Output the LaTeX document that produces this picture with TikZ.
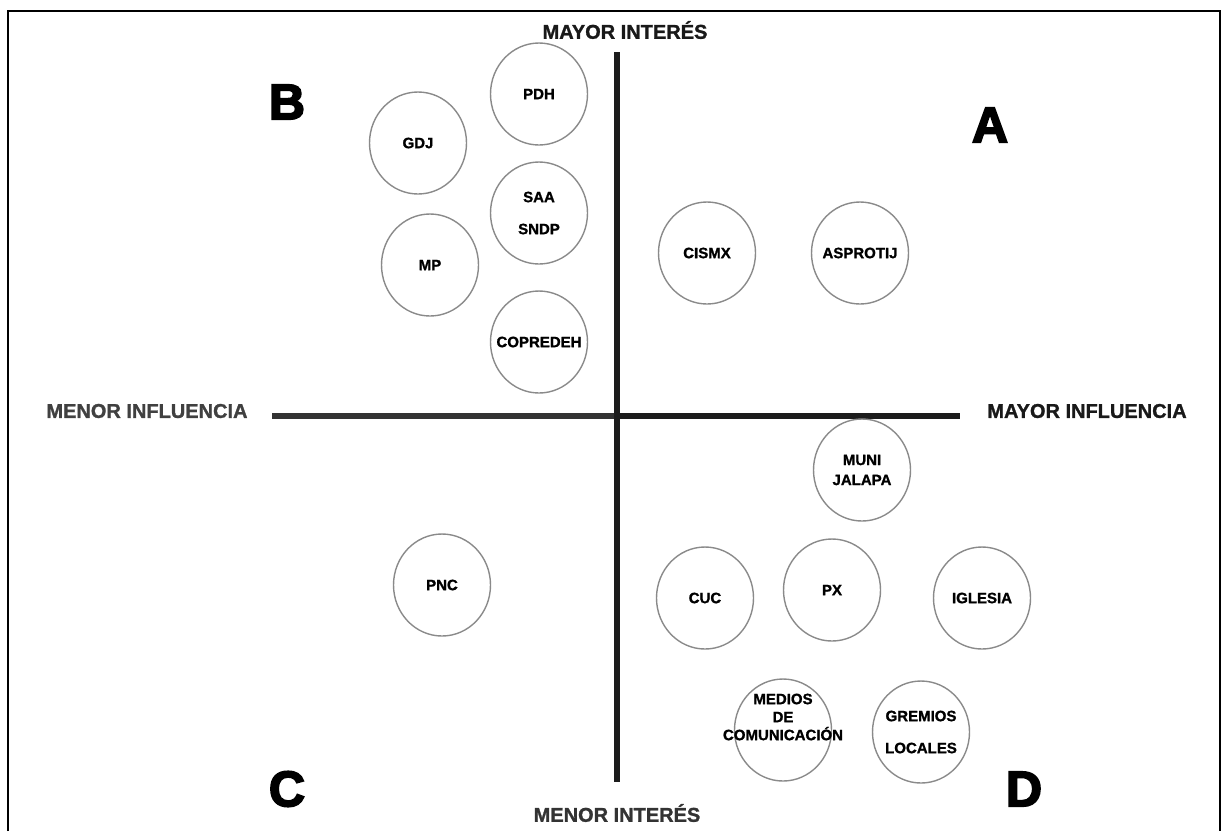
\documentclass[tikz,border=0pt]{standalone}
\usepackage{fontspec}
\setmainfont{Liberation Sans}
\newfontfamily\boldsans[UprightFont=* Bold, FakeBold=1.2]{Liberation Sans}
\newfontfamily\blacksans[UprightFont=* Bold, FakeBold=3.5]{Liberation Sans}
\usetikzlibrary{shapes.geometric}
\definecolor{axisgray}{HTML}{1C1C1C}
\definecolor{ringgray}{HTML}{8A8A8A}
\tikzset{
  actortext/.style={inner sep=0pt, align=center,
    font=\boldsans\fontsize{15}{18}\selectfont},
  ring/.style={ellipse, draw=ringgray, line width=1.4pt, inner sep=0pt,
    minimum width=97pt, minimum height=102pt},
  actor/.style={ring, label={[actortext]center:{#1}}},
  axislabel/.style={font=\boldsans\fontsize{20}{22}\selectfont},
  quadrant/.style={font=\blacksans\fontsize{50}{50}\selectfont}
}

\begin{document}
\begin{tikzpicture}[x=1pt,y=-1pt]
\useasboundingbox (0,0) rectangle (1222,831);
\coordinate (TOP) at (617,52);
\coordinate (BOTTOM) at (617,782);
\coordinate (LEFT) at (272,416);
\coordinate (CENTER) at (617,416);
\coordinate (RIGHT) at (960,416);
% frame
\draw[line width=2pt] (8,831) -- (8,11) -- (1220,11) -- (1220,831);
% axes
\draw[line width=5.5pt, color=black!80] (LEFT) -- (CENTER);
\draw[line width=5.5pt, color=axisgray] (CENTER) -- (RIGHT);
\draw[line width=5.5pt, color=axisgray] (TOP) -- (BOTTOM);
% axis labels
\node[axislabel, text=black!90] (mayint) at (625,30) {MAYOR INTERÉS};
\node[axislabel, text=black!80] (menint) at (617,813) {MENOR INTERÉS};
\node[axislabel, text=black!75] (meninf) at (147,411) {MENOR INFLUENCIA};
\node[axislabel, text=black!90] (mayinf) at (1087,411) {MAYOR INFLUENCIA};
% quadrants
\node[quadrant] (qA) at (990,125) {A};
\node[quadrant] (qB) at (287,102) {B};
\node[quadrant] (qC) at (287,789) {C};
\node[quadrant] (qD) at (1024,789) {D};
% B
\node[actor={PDH}] (pdh) at (539,94) {};
\node[actor={GDJ}] (gdj) at (418,143) {};
\node[actor={SAA\\[14pt]SNDP}] (saa) at (539,213) {};
\node[actor={MP}] (mp) at (430,265) {};
\node[actor={COPREDEH}] (copredeh) at (539,342) {};
% A
\node[actor={CISMX}] (cismx) at (707,253) {};
\node[actor={ASPROTIJ}] (asprotij) at (860,253) {};
% C
\node[actor={PNC}] (pnc) at (442,585) {};
% D
\node[actor={MUNI\\[2pt]JALAPA}] (muni) at (862,470) {};
\node[actor={CUC}] (cuc) at (705,598) {};
\node[actor={PX}] (px) at (832,590) {};
\node[actor={IGLESIA}] (iglesia) at (982,598) {};
\node[ring, label={[actortext, yshift=13pt]center:{MEDIOS\\DE\\COMUNICACIÓN}}] (medios) at (783,730) {};
\node[actor={GREMIOS\\[14pt]LOCALES}] (gremios) at (921,732) {};
\end{tikzpicture}
\end{document}
